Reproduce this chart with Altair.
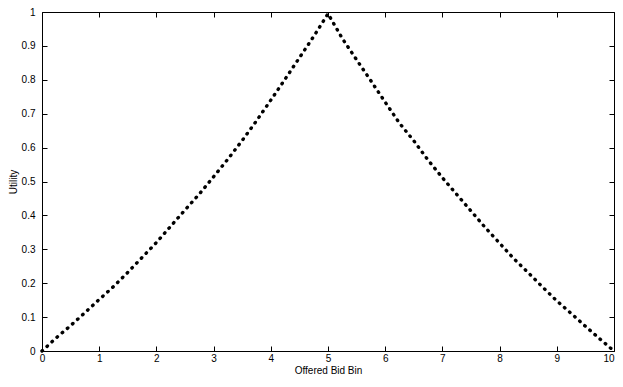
import altair as alt
import pandas as pd

# Offered bid bin (x) and utility (y)
bins = [0, 0.25, 0.5, 0.75, 1.0, 1.25, 1.5, 1.75, 2.0, 2.25, 2.5, 2.75, 3.0, 3.25, 3.5, 3.75,
        4.0, 4.25, 4.5, 4.75, 5.0, 5.25, 5.5, 5.75, 6.0, 6.25, 6.5, 6.75, 7.0, 7.25, 7.5,
        7.75, 8.0, 8.25, 8.5, 8.75, 9.0, 9.25, 9.5, 9.75, 10.0]
utility = [0, 0.039, 0.075, 0.113, 0.152, 0.190, 0.232, 0.276, 0.320, 0.368, 0.416, 0.463,
           0.514, 0.566, 0.621, 0.679, 0.740, 0.802, 0.865, 0.928, 0.995,
           0.922, 0.859, 0.797, 0.734, 0.672, 0.620, 0.563, 0.511, 0.462, 0.413, 0.364,
           0.318, 0.272, 0.231, 0.189, 0.148, 0.111, 0.073, 0.036, 0]

x_ticks = [0, 1, 2, 3, 4, 5, 6, 7, 8, 9, 10]
y_ticks = [0, 0.1, 0.2, 0.3, 0.4, 0.5, 0.6, 0.7, 0.8, 0.9, 1]

W, H = 572, 339
FONT = "Liberation Sans"

df = pd.DataFrame({"bin": bins, "utility": utility})
xs = alt.Scale(domain=[0, 10], nice=False, zero=False)
ys = alt.Scale(domain=[0, 1], nice=False)
base = alt.Chart(df)

line = base.mark_line(color="black", strokeWidth=3.4, strokeCap="round",
                      strokeDash=[0.6, 6.2]).encode(
    x=alt.X("bin:Q", scale=xs, axis=alt.Axis(
        orient="bottom", values=x_ticks, ticks=False, tickSize=0, domain=False, grid=False,
        labelPadding=2, labelFlush=False, labelOverlap=False, labelFont=FONT, labelFontSize=10,
        labelAlign={"condition": {"test": "datum.value == 10", "value": "right"},
                    "value": "center"},
        labelColor="black", title="Offered Bid Bin", titleFont=FONT, titleFontSize=10,
        titleFontWeight="normal", titleColor="black", titleY=19, titleBaseline="middle")),
    y=alt.Y("utility:Q", scale=ys, axis=alt.Axis(
        orient="left", values=y_ticks, format=".1~f", ticks=False, tickSize=0, domain=False,
        grid=False, labelPadding=7, labelFlush=False, labelOverlap=False, labelFont=FONT,
        labelFontSize=10, labelColor="black", title="Utility", titleFont=FONT,
        titleFontSize=10, titleFontWeight="normal", titleColor="black", titleX=-29,
        titleBaseline="middle")),
)

def tick_layer(xo, yo):
    return base.mark_line(opacity=0).encode(
        x=alt.X("bin:Q", scale=xs, title="", axis=alt.Axis(
            orient=xo, offset=-H, values=x_ticks, labels=False, domain=False, grid=False,
            ticks=True, tickSize=5, tickColor="black", tickWidth=1)),
        y=alt.Y("utility:Q", scale=ys, title="", axis=alt.Axis(
            orient=yo, offset=-W, values=y_ticks, labels=False, domain=False, grid=False,
            ticks=True, tickSize=5, tickColor="black", tickWidth=1)),
    )

chart = alt.layer(line, tick_layer("top", "right"), tick_layer("bottom", "left")).resolve_scale(
    x="independent", y="independent"
).properties(
    width=W, height=H,
    autosize=alt.AutoSizeParams(type="none"),
    padding={"left": 34, "top": 4, "right": 1, "bottom": 24},
    background="white",
).configure_view(stroke="black", strokeWidth=1)

chart.save("out.html", embed_options={"renderer": "svg", "actions": False})
